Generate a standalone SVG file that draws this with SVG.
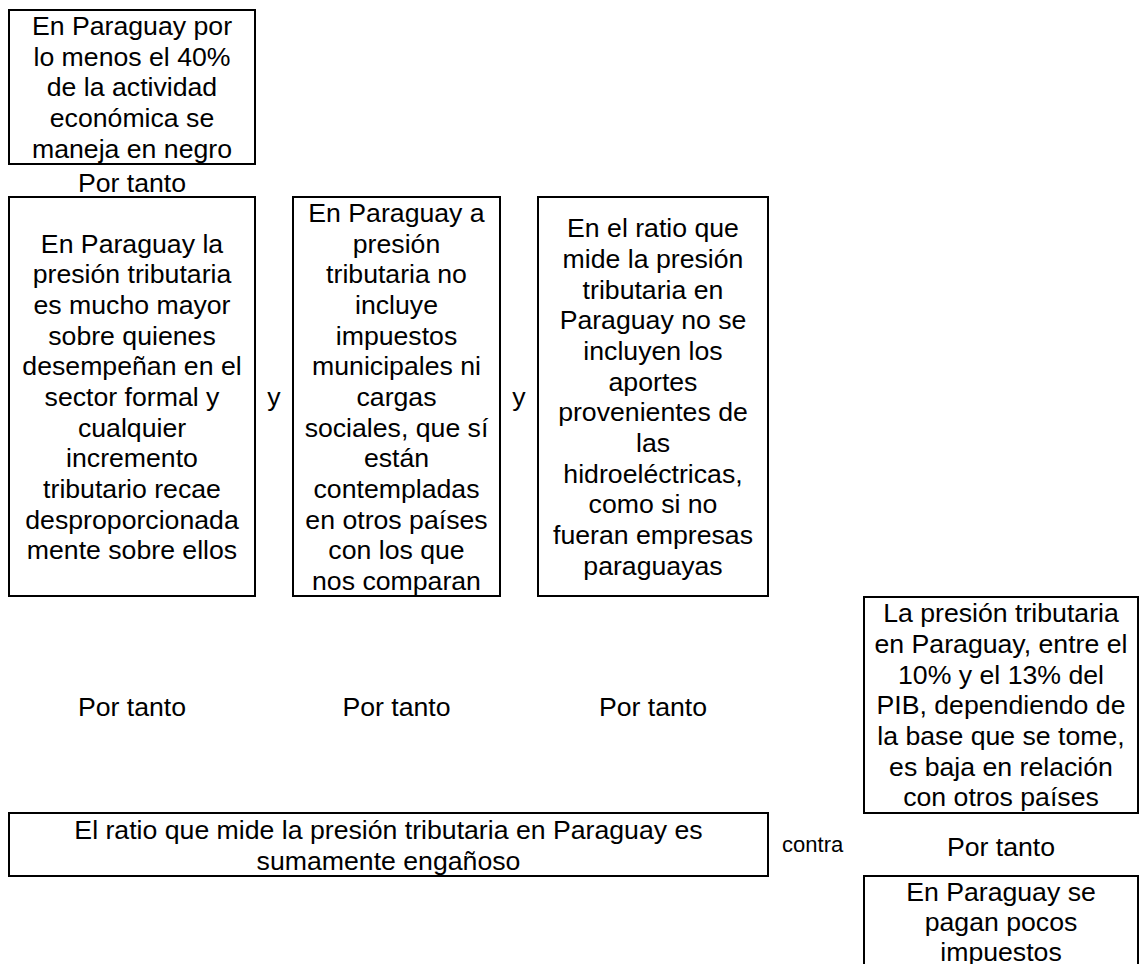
<svg xmlns="http://www.w3.org/2000/svg" width="1139" height="964" viewBox="0 0 1139 964">
<style>
.box{fill:#fff;stroke:#000;stroke-width:2}
text{font-family:"Liberation Sans",Arial,sans-serif;font-size:26.67px;fill:#000;text-anchor:middle}
.sm{font-size:22px}
</style>
<rect width="1139" height="964" fill="#fff"/>
<g id="n1">
<rect class="box" x="9" y="10" width="246" height="154"/>
<text x="132"><tspan x="132" y="35">En Paraguay por</tspan><tspan x="132" y="65.7">lo menos el 40%</tspan><tspan x="132" y="96.4">de la actividad</tspan><tspan x="132" y="127">económica se</tspan><tspan x="132" y="157.7">maneja en negro</tspan></text>
</g>
<g id="n2">
<rect class="box" x="9" y="197" width="246" height="399"/>
<text><tspan x="132" y="252.5">En Paraguay la</tspan><tspan x="132" y="283.2">presión tributaria</tspan><tspan x="132" y="313.8">es mucho mayor</tspan><tspan x="132" y="344.5">sobre quienes</tspan><tspan x="132" y="375.2">desempeñan en el</tspan><tspan x="132" y="405.8">sector formal y</tspan><tspan x="132" y="436.5">cualquier</tspan><tspan x="132" y="467.2">incremento</tspan><tspan x="132" y="497.8">tributario recae</tspan><tspan x="132" y="528.5">desproporcionada</tspan><tspan x="132" y="559.2">mente sobre ellos</tspan></text>
</g>
<g id="n3">
<rect class="box" x="293" y="197" width="207" height="399"/>
<text><tspan x="396.5" y="221.8">En Paraguay a</tspan><tspan x="396.5" y="252.5">presión</tspan><tspan x="396.5" y="283.2">tributaria no</tspan><tspan x="396.5" y="313.8">incluye</tspan><tspan x="396.5" y="344.5">impuestos</tspan><tspan x="396.5" y="375.2">municipales ni</tspan><tspan x="396.5" y="405.8">cargas</tspan><tspan x="396.5" y="436.5">sociales, que sí</tspan><tspan x="396.5" y="467.2">están</tspan><tspan x="396.5" y="497.8">contempladas</tspan><tspan x="396.5" y="528.5">en otros países</tspan><tspan x="396.5" y="559.2">con los que</tspan><tspan x="396.5" y="589.8">nos comparan</tspan></text>
</g>
<g id="n4">
<rect class="box" x="538" y="197" width="230" height="399"/>
<text><tspan x="653" y="237.1">En el ratio que</tspan><tspan x="653" y="267.8">mide la presión</tspan><tspan x="653" y="298.5">tributaria en</tspan><tspan x="653" y="329.1">Paraguay no se</tspan><tspan x="653" y="359.8">incluyen los</tspan><tspan x="653" y="390.5">aportes</tspan><tspan x="653" y="421.1">provenientes de</tspan><tspan x="653" y="451.8">las</tspan><tspan x="653" y="482.5">hidroeléctricas,</tspan><tspan x="653" y="513.1">como si no</tspan><tspan x="653" y="543.8">fueran empresas</tspan><tspan x="653" y="574.5">paraguayas</tspan></text>
</g>
<g id="n5">
<rect class="box" x="864" y="597" width="274" height="216"/>
<text><tspan x="1001" y="622.3">La presión tributaria</tspan><tspan x="1001" y="653">en Paraguay, entre el</tspan><tspan x="1001" y="683.6">10% y el 13% del</tspan><tspan x="1001" y="714.3">PIB, dependiendo de</tspan><tspan x="1001" y="745">la base que se tome,</tspan><tspan x="1001" y="775.6">es baja en relación</tspan><tspan x="1001" y="806.3">con otros países</tspan></text>
</g>
<g id="n6">
<rect class="box" x="9" y="813" width="759" height="63"/>
<text><tspan x="388.5" y="839">El ratio que mide la presión tributaria en Paraguay es</tspan><tspan x="388.5" y="869.7">sumamente engañoso</tspan></text>
</g>
<g id="n7">
<rect class="box" x="864" y="876" width="274" height="120"/>
<text><tspan x="1001" y="901">En Paraguay se</tspan><tspan x="1001" y="931.2">pagan pocos</tspan><tspan x="1001" y="961">impuestos</tspan></text>
</g>
<g id="connectors">
<text x="132" y="191.5">Por tanto</text>
<text x="274" y="406">y</text>
<text x="519" y="406">y</text>
<text x="132" y="716">Por tanto</text>
<text x="396.5" y="716">Por tanto</text>
<text x="653" y="716">Por tanto</text>
<text class="sm" x="812.7" y="852">contra</text>
<text x="1001" y="856">Por tanto</text>
</g>
</svg>
